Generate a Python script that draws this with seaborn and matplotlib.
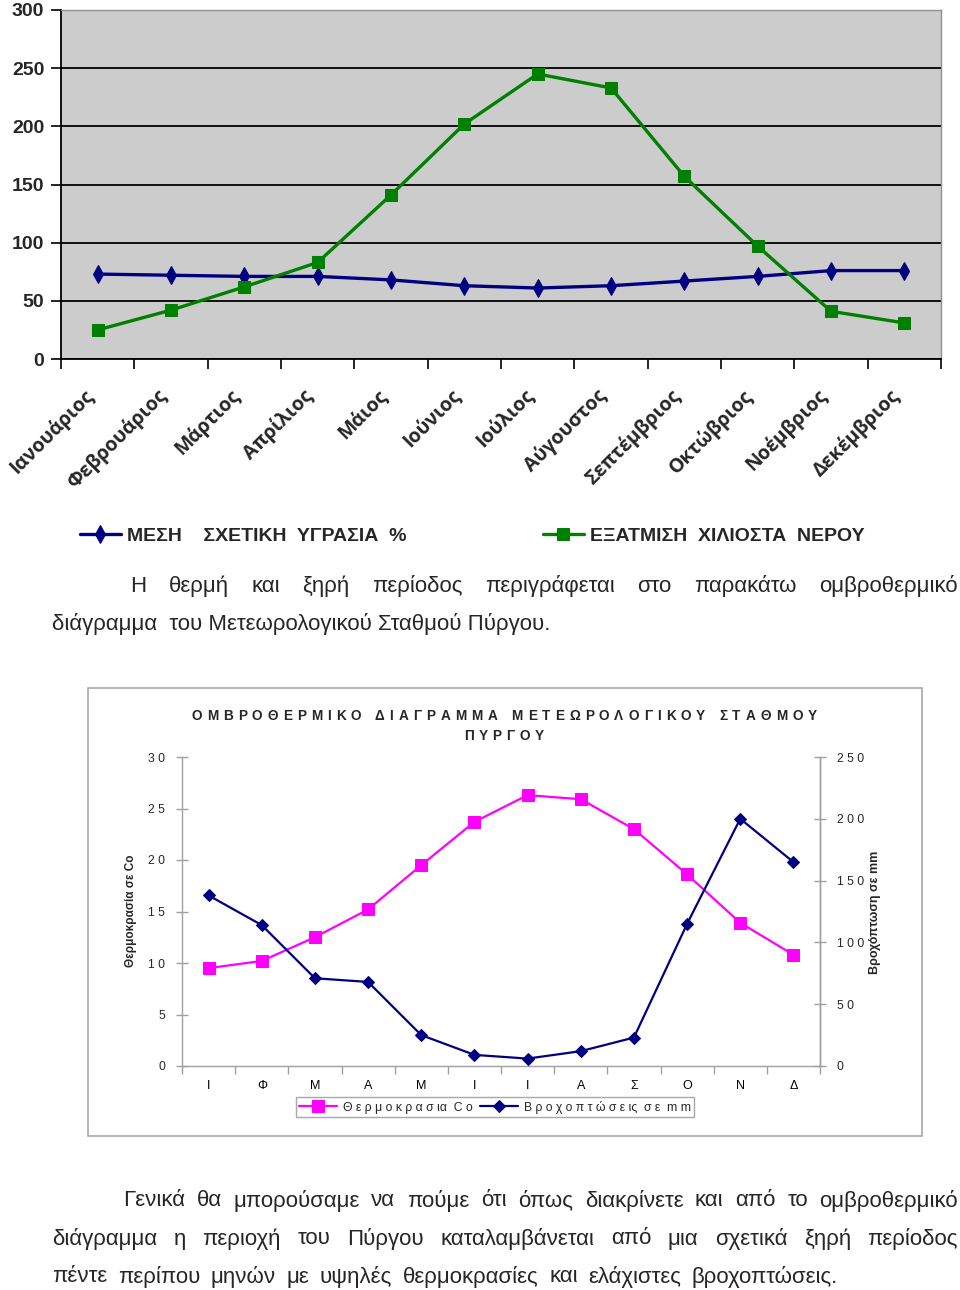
import matplotlib
matplotlib.use('Agg')
import matplotlib.pyplot as plt
import seaborn as sns
from matplotlib.patches import Rectangle

sns.set_theme(style="white")
ARIAL = ['Liberation Sans', 'DejaVu Sans']
plt.rcParams['font.family'] = ARIAL

# Στοιχεία πρώτου διαγράμματος (υγρασία / εξάτμιση)
months = ['Ιανουάριος', 'Φεβρουάριος', 'Μάρτιος', 'Απρίλιος', 'Μάιος', 'Ιούνιος',
          'Ιούλιος', 'Αύγουστος', 'Σεπτέμβριος', 'Οκτώβριος', 'Νοέμβριος', 'Δεκέμβριος']
humidity = [73, 72, 71, 71, 68, 63, 61, 63, 67, 71, 76, 76]
evaporation = [25, 42, 62, 83, 141, 202, 245, 233, 157, 97, 41, 31]
top_yticks = [0, 50, 100, 150, 200, 250, 300]

# Στοιχεία ομβροθερμικού διαγράμματος
months_short = ['Ι', 'Φ', 'Μ', 'Α', 'Μ', 'Ι', 'Ι', 'Α', 'Σ', 'Ο', 'Ν', 'Δ']
temperature = [9.5, 10.2, 12.5, 15.2, 19.5, 23.7, 26.3, 25.9, 23.0, 18.6, 13.9, 10.8]
rainfall = [138, 114, 71, 68, 25, 9, 6, 12, 23, 115, 200, 165]
temp_ticks = [0, 5, 10, 15, 20, 25, 30]
temp_ticklabels = ['0', '5', '1 0', '1 5', '2 0', '2 5', '3 0']
rain_ticks = [0, 50, 100, 150, 200, 250]
rain_ticklabels = ['0', '5 0', '1 0 0', '1 5 0', '2 0 0', '2 5 0']

W, H = 960, 1290
fig = plt.figure(figsize=(W / 100, H / 100), dpi=100)
fig.patch.set_facecolor('white')

def fx(px):
    return px / W

def fy(py):
    return 1 - py / H

# ---------------- ΔΙΑΓΡΑΜΜΑ 1 ----------------
ax1 = fig.add_axes([fx(61), fy(359), fx(941 - 61), (359 - 10) / H])
ax1.set_facecolor('#CCCCCC')
pos = list(range(12))
sns.lineplot(x=pos, y=humidity, ax=ax1, color='#000080', linewidth=2.4,
             marker='d', markersize=9, markeredgecolor='#000080')
sns.lineplot(x=pos, y=evaporation, ax=ax1, color='#008000', linewidth=2.4,
             marker='s', markersize=8, markeredgecolor='#008000')
ax1.set_xlim(-0.5, 11.5)
ax1.set_ylim(0, 300)
ax1.set_yticks(top_yticks)
ax1.set_yticklabels([str(v) for v in top_yticks], fontsize=14, fontweight='bold')
ax1.yaxis.grid(True, color='black', linewidth=1.3)
ax1.set_axisbelow(True)
ax1.set_xlabel('')
ax1.set_ylabel('')
ax1.set_xticks(pos)
ax1.set_xticklabels(months, rotation=45, ha='right', va='top', fontsize=14,
                    fontweight='bold', family=['Open Sans', 'DejaVu Sans'])
ax1.set_xticks([i - 0.5 for i in range(13)], minor=True)
ax1.tick_params(axis='x', which='major', length=0, pad=19)
ax1.tick_params(axis='x', which='minor', length=7, width=1.2, color='black', direction='out', bottom=True)
ax1.tick_params(axis='y', length=7, width=1.2, color='black', direction='out', left=True, pad=5)
for s in ['left', 'bottom']:
    ax1.spines[s].set_color('black')
    ax1.spines[s].set_linewidth(1.3)
for s in ['top', 'right']:
    ax1.spines[s].set_color('#909090')
    ax1.spines[s].set_linewidth(1)

lines1 = ax1.get_lines()
fig.legend([lines1[0]], ['ΜΕΣΗ    ΣΧΕΤΙΚΗ  ΥΓΡΑΣΙΑ  %'], loc='center left', bbox_to_anchor=(fx(80), fy(536)),
           frameon=False, borderpad=0, borderaxespad=0, handlelength=2.1, handletextpad=0.3,
           prop={'weight': 'bold', 'size': 14})
fig.legend([lines1[1]], ['ΕΞΑΤΜΙΣΗ  ΧΙΛΙΟΣΤΑ  ΝΕΡΟΥ'], loc='center left', bbox_to_anchor=(fx(543), fy(536)),
           frameon=False, borderpad=0, borderaxespad=0, handlelength=2.1, handletextpad=0.3,
           prop={'weight': 'bold', 'size': 14})

renderer = fig.canvas.get_renderer()

def justify(line, x0, x1, y, size=16):
    words = line.split()
    texts = [fig.text(0, fy(y), w, fontsize=size, va='center', ha='left') for w in words]
    widths = [t.get_window_extent(renderer).width for t in texts]
    gap = ((x1 - x0) - sum(widths)) / (len(words) - 1)
    x = x0
    for t, w in zip(texts, widths):
        t.set_x(fx(x))
        x += w + gap

def tracked(s, xc, y, size, track, **kw):
    texts = [fig.text(0, fy(y), ch, fontsize=size, va='center', ha='left', **kw) for ch in s]
    widths = [t.get_window_extent(renderer).width if ch != ' ' else size * 0.4 for t, ch in zip(texts, s)]
    total = sum(widths) + track * (len(s) - 1)
    x = xc - total / 2
    for t, w in zip(texts, widths):
        t.set_x(fx(x))
        x += w + track

justify('Η θερμή και ξηρή περίοδος περιγράφεται στο παρακάτω ομβροθερμικό', 130, 958, 586)
fig.text(fx(52), fy(624), 'διάγραμμα  του Μετεωρολογικού Σταθμού Πύργου.', fontsize=16,
         va='center', ha='left')

# ---------------- ΔΙΑΓΡΑΜΜΑ 2 ----------------
fig.patches.append(Rectangle((fx(88), fy(1136)), fx(922 - 88), (1136 - 688) / H, transform=fig.transFigure,
                             fill=False, edgecolor='#A8A8A8', linewidth=1.2))

ax2 = fig.add_axes([fx(182), fy(1066), fx(820 - 182), (1066 - 757) / H])
ax2.set_facecolor('white')
sns.lineplot(x=pos, y=temperature, ax=ax2, color='#FF00FF', linewidth=1.6,
             marker='s', markersize=8.5, markeredgecolor='#FF00FF')
ax3 = ax2.twinx()
sns.lineplot(x=pos, y=rainfall, ax=ax3, color='#000080', linewidth=1.6,
             marker='D', markersize=6.5, markeredgecolor='#000080')

ax2.set_xlim(-0.5, 11.5)
ax2.set_ylim(0, 30)
ax3.set_ylim(0, 250)
ax2.set_xticks(pos)
ax2.set_xticklabels(months_short, fontsize=9, color='black')
ax2.set_xticks([i - 0.5 for i in range(13)], minor=True)
ax2.tick_params(axis='x', which='major', length=0, pad=10)
ax2.tick_params(axis='x', which='minor', length=6, width=1, color='#A0A0A0', direction='out', bottom=True)
ax2.set_yticks(temp_ticks)
ax2.set_yticklabels(temp_ticklabels, fontsize=8.8)
ax2.tick_params(axis='y', length=8, width=1, color='#A0A0A0', direction='inout', left=True, pad=8)
ax3.set_yticks(rain_ticks)
ax3.set_yticklabels(rain_ticklabels, fontsize=8.8)
ax3.tick_params(axis='y', length=8, width=1, color='#A0A0A0', direction='inout', right=True, pad=8)
ax2.set_xlabel('')
ax2.set_ylabel('')
ax3.set_ylabel('')
for a in (ax2, ax3):
    a.spines['top'].set_visible(False)
    for s in ['left', 'right', 'bottom']:
        a.spines[s].set_color('#A0A0A0')
        a.spines[s].set_linewidth(1)
ax3.spines['left'].set_visible(False)
ax3.spines['bottom'].set_visible(False)

fig.text(fx(131), fy(911), 'Θερμοκρασία σε Co', rotation=90, fontsize=8.5, fontweight='bold',
         ha='center', va='center')
fig.text(fx(875), fy(912), 'Βροχόπτωση σε mm', rotation=90, fontsize=9, fontweight='bold',
         ha='center', va='center')

tracked('ΟΜΒΡΟΘΕΡΜΙΚΟ ΔΙΑΓΡΑΜΜΑ ΜΕΤΕΩΡΟΛΟΓΙΚΟΥ ΣΤΑΘΜΟΥ', 504, 716, 9.8, 5.0, fontweight='bold')
tracked('ΠΥΡΓΟΥ', 504, 736, 9.8, 5.0, fontweight='bold')

handles2 = [ax2.get_lines()[0], ax3.get_lines()[0]]
fig.legend(handles2, ['Θ ε ρ μ ο κ ρ α σ ια  C o', 'Β ρ ο χ ο π τ ώ σ ε ις  σ ε  m m'], loc='center',
           bbox_to_anchor=(fx(495), fy(1107)), ncol=2, fancybox=False, framealpha=1,
           edgecolor='#A8A8A8', borderpad=0.25, handlelength=3.1, handletextpad=0.5, columnspacing=0.6,
           prop={'size': 8.8})

justify('Γενικά θα μπορούσαμε να πούμε ότι όπως διακρίνετε και από το ομβροθερμικό', 123, 958, 1201)
justify('διάγραμμα η περιοχή του Πύργου καταλαμβάνεται από μια σχετικά ξηρή περίοδος', 52, 958, 1239)
justify('πέντε περίπου μηνών με υψηλές θερμοκρασίες και ελάχιστες βροχοπτώσεις.', 52, 838, 1277)

fig.savefig('out.png', dpi=100, facecolor='white')
plt.close()
print("saved out.png")
